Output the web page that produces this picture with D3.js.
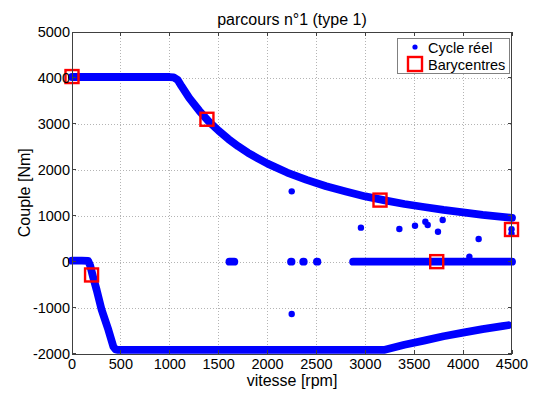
<!DOCTYPE html>
<html><head><meta charset="utf-8">
<script src="https://cdn.jsdelivr.net/npm/d3@7"></script>
<style>
html,body{margin:0;padding:0;background:#fff;}
svg{display:block;font-family:"Liberation Sans",Arial,Helvetica,sans-serif;}
</style></head>
<body>
<svg id="chart" width="534" height="395"></svg>
<script>
// ---- data ----
const xTicks = [0, 500, 1000, 1500, 2000, 2500, 3000, 3500, 4000, 4500];
const yTicks = [-2000, -1000, 0, 1000, 2000, 3000, 4000, 5000];

// upper envelope (max torque), rpm / Nm
const upperRpm = [0, 200, 400, 600, 800, 1000, 1040, 1080, 1120, 1200, 1300, 1400, 1500, 1600, 1700, 1800, 1900, 2000, 2200, 2400, 2600, 2800, 3000, 3200, 3400, 3600, 3800, 4000, 4200, 4400, 4500];
const upperNm  = [4020, 4020, 4020, 4020, 4020, 4020, 4010, 3960, 3820, 3560, 3290, 3050, 2850, 2670, 2510, 2370, 2250, 2135, 1940, 1780, 1640, 1525, 1420, 1335, 1255, 1190, 1125, 1075, 1020, 975, 955];

// lower envelope (braking), rpm / Nm
const lowerRpm = [0, 100, 165, 185, 215, 252, 303, 372, 423, 445, 470, 1000, 2000, 3000, 3200, 3400, 3600, 3800, 4000, 4200, 4400, 4460];
const lowerNm  = [20, 20, 15, -80, -330, -615, -1050, -1485, -1850, -1910, -1920, -1920, -1920, -1920, -1920, -1810, -1720, -1625, -1545, -1470, -1405, -1385];

// runs of points at zero torque (point centres) [start rpm, end rpm]
const zeroRunStart = [1610, 2240, 2365, 2505, 2875];
const zeroRunEnd   = [1660, 2245, 2370, 2510, 4500];

// isolated points
const isoRpm = [2247, 2247, 2955, 3348, 3508, 3614, 3638, 3743, 3791, 4064, 4159, 4495, 4495];
const isoNm  = [1530, -1140, 740, 711, 783, 870, 798, 652, 906, 109, 494, 704, 609];

// barycentres
const baryRpm = [0, 200, 1380, 3150, 3730, 4495];
const baryNm  = [4030, -290, 3100, 1340, 0, 700];

// ---- layout ----
const svg = d3.select("#chart");
const L = 72, R = 512, T = 32, B = 353.5;
const x = d3.scaleLinear().domain([0, 4500]).range([L, R]);
const y = d3.scaleLinear().domain([-2000, 5000]).range([B, T]);
const axisCol = "#404040";
const blue = "#0000ff";

// grid
const g = svg.append("g");
g.selectAll(".vg").data(xTicks.slice(1, -1)).enter().append("line")
  .attr("x1", d => x(d)).attr("x2", d => x(d)).attr("y1", T).attr("y2", B)
  .attr("stroke", "#b4b4b4").attr("stroke-width", 1).attr("stroke-dasharray", "1,2")
  .attr("shape-rendering", "crispEdges");
g.selectAll(".hg").data(yTicks.slice(1, -1)).enter().append("line")
  .attr("y1", d => Math.round(y(d)) + 0.5).attr("y2", d => Math.round(y(d)) + 0.5).attr("x1", L).attr("x2", R)
  .attr("stroke", "#b4b4b4").attr("stroke-width", 1).attr("stroke-dasharray", "1,2")
  .attr("shape-rendering", "crispEdges");

// data
const line = d3.line().x(d => x(d[0])).y(d => y(d[1]));
const bandW = 7.8;
const upper = upperRpm.map((r, i) => [r, upperNm[i]]);
const lower = lowerRpm.map((r, i) => [r, lowerNm[i]]);
svg.append("path").attr("d", line(upper)).attr("fill", "none").attr("stroke", blue)
  .attr("stroke-width", bandW).attr("stroke-linejoin", "round").attr("stroke-linecap", "round");
svg.append("path").attr("d", line(lower)).attr("fill", "none").attr("stroke", blue)
  .attr("stroke-width", bandW).attr("stroke-linejoin", "round").attr("stroke-linecap", "round");
zeroRunStart.forEach((s, i) => {
  svg.append("path").attr("d", line([[s, 0], [zeroRunEnd[i], 0]])).attr("fill", "none")
    .attr("stroke", blue).attr("stroke-width", bandW).attr("stroke-linecap", "round");
});
svg.selectAll(".iso").data(isoRpm.map((r, i) => [r, isoNm[i]])).enter().append("circle")
  .attr("cx", d => x(d[0])).attr("cy", d => y(d[1])).attr("r", 3.2).attr("fill", blue);

// barycentres
const sq = 13;
svg.selectAll(".bary").data(baryRpm.map((r, i) => [r, baryNm[i]])).enter().append("rect")
  .attr("x", d => x(d[0]) - sq / 2).attr("y", d => y(d[1]) - sq / 2)
  .attr("width", sq).attr("height", sq).attr("fill", "none")
  .attr("stroke", "#ff0000").attr("stroke-width", 2.4);

// axes box and ticks
const ax = svg.append("g");
ax.append("rect").attr("x", L + 0.5).attr("y", T + 0.5).attr("width", R - L - 1).attr("height", B - T)
  .attr("fill", "none").attr("stroke", axisCol).attr("stroke-width", 1).attr("shape-rendering", "crispEdges");
const tl = 4;
xTicks.forEach(v => {
  ax.append("line").attr("x1", x(v)).attr("x2", x(v)).attr("y1", B).attr("y2", B - tl).attr("stroke", axisCol).attr("shape-rendering", "crispEdges");
  ax.append("line").attr("x1", x(v)).attr("x2", x(v)).attr("y1", T).attr("y2", T + tl).attr("stroke", axisCol).attr("shape-rendering", "crispEdges");
});
yTicks.forEach(v => {
  ax.append("line").attr("x1", L).attr("x2", L + tl).attr("y1", y(v)).attr("y2", y(v)).attr("stroke", axisCol).attr("shape-rendering", "crispEdges");
  ax.append("line").attr("x1", R).attr("x2", R - tl).attr("y1", y(v)).attr("y2", y(v)).attr("stroke", axisCol).attr("shape-rendering", "crispEdges");
});
const fs = "14.5px";
ax.selectAll(".xl").data(xTicks).enter().append("text")
  .attr("x", d => x(d)).attr("y", 369).attr("text-anchor", "middle")
  .attr("font-size", fs).attr("fill", "#000").text(d => d);
ax.selectAll(".yl").data(yTicks).enter().append("text")
  .attr("x", L - 2).attr("y", d => y(d) + 5).attr("text-anchor", "end")
  .attr("font-size", fs).attr("fill", "#000").text(d => d);

// labels
svg.append("text").attr("x", (L + R) / 2).attr("y", 25).attr("text-anchor", "middle")
  .attr("font-size", "16px").text("parcours n°1 (type 1)");
svg.append("text").attr("x", (L + R) / 2).attr("y", 386).attr("text-anchor", "middle")
  .attr("font-size", "16px").text("vitesse [rpm]");
svg.append("text").attr("transform", `translate(30,${(T + B) / 2}) rotate(-90)`).attr("text-anchor", "middle")
  .attr("font-size", "16px").text("Couple [Nm]");

// legend
const lg = svg.append("g");
lg.append("rect").attr("x", 397.5).attr("y", 38.5).attr("width", 112).attr("height", 35)
  .attr("fill", "#fff").attr("stroke", "#808080").attr("stroke-width", 1).attr("shape-rendering", "crispEdges");
lg.append("circle").attr("cx", 415).attr("cy", 47).attr("r", 2.6).attr("fill", blue);
lg.append("rect").attr("x", 415 - 7).attr("y", 64 - 7).attr("width", 14).attr("height", 14)
  .attr("fill", "none").attr("stroke", "#ff0000").attr("stroke-width", 2.4);
lg.append("text").attr("x", 428).attr("y", 53).attr("font-size", fs).text("Cycle réel");
lg.append("text").attr("x", 428).attr("y", 70).attr("font-size", fs).text("Barycentres");
</script>
</body></html>
